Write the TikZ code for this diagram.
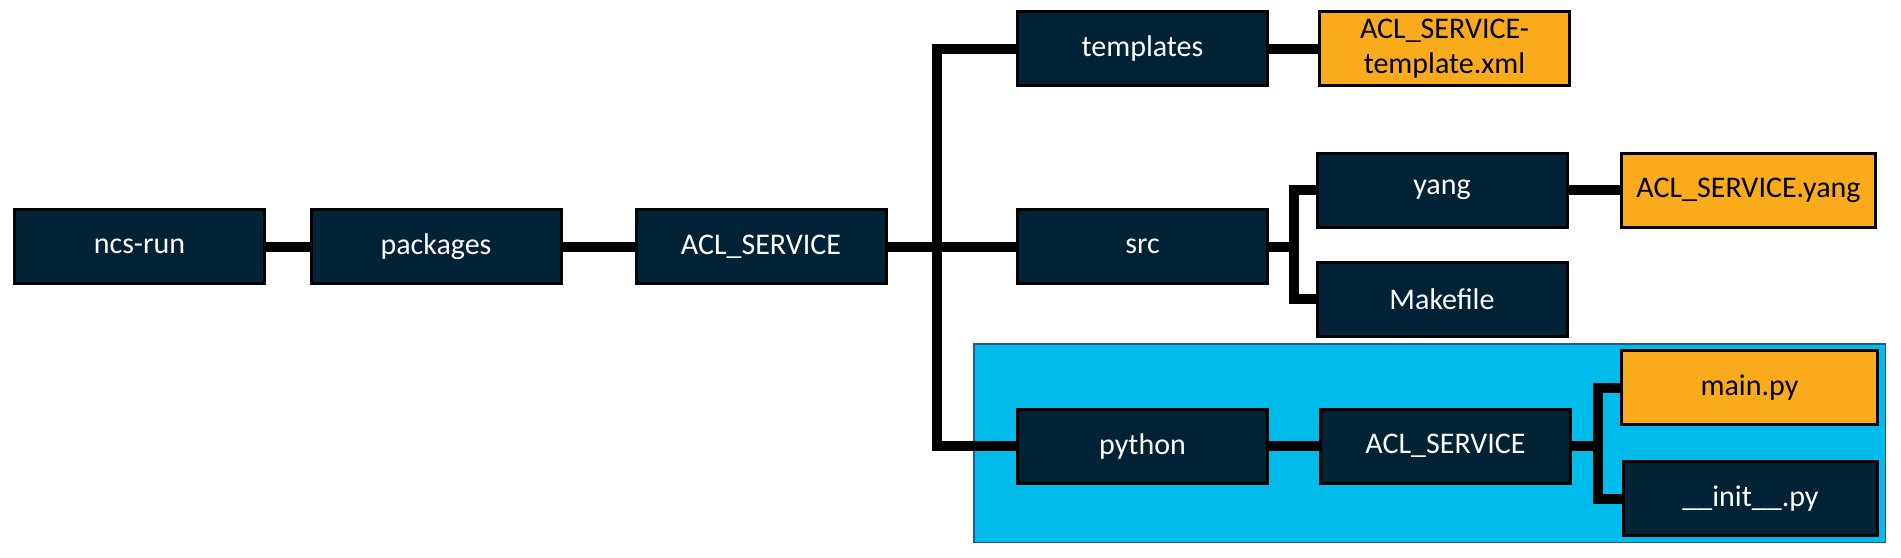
\documentclass[tikz,border=0pt]{standalone}
\usepackage{fontspec}
\setmainfont{Carlito}
\definecolor{navy}{RGB}{2,34,54}
\definecolor{gold}{RGB}{249,171,27}
\definecolor{cblue}{RGB}{0,188,235}
\definecolor{bluebd}{RGB}{47,85,151}
\begin{document}
\begin{tikzpicture}[x=1pt,y=-1pt,
  box/.style={draw=black, line width=3pt, minimum width=250pt, minimum height=74pt,
    inner sep=0pt, font=\fontsize{30}{35}\selectfont, align=center},
  dark/.style={box, fill=navy, text=white},
  file/.style={box, fill=gold, text=black},
  conn/.style={draw=black, line width=10pt, line join=miter},
  group/.style={draw=bluebd, fill=cblue, line width=1.5pt, inner sep=0pt}]
\useasboundingbox (0,0) rectangle (1901,557);
% python group background
\node[group, minimum width=911.5pt, minimum height=198.5pt] (pybox) at (1429.5,443) {};
% boxes
\node[dark] (ncs) at (139.5,246.5) {ncs-run};
\node[dark] (pkg) at (436,246.5) {packages};
\node[dark] (acl) at (761,246.5) {ACL\_SERVICE};
\node[dark] (tpl) at (1142.5,48.5) {templates};
\node[file] (xml) at (1444.5,48.5) {ACL\_SERVICE-\\template.xml};
\node[dark] (src) at (1142.5,246.5) {src};
\node[dark] (yang) at (1442,190) {yang};
\node[file, minimum width=254pt] (yfile) at (1748.5,190) {ACL\_SERVICE.yang};
\node[dark] (make) at (1442,299) {Makefile};
\node[dark] (py) at (1142.5,446) {python};
\node[dark] (acl2) at (1445.5,446) {ACL\_SERVICE};
\node[file, minimum width=256pt] (main) at (1749.5,387.5) {main.py};
\node[dark, minimum width=254pt] (init) at (1750.5,498.5) {\_\_init\_\_.py};
% branch columns
\coordinate (tx) at (937,0);
\coordinate (sx) at (1294,0);
\coordinate (px) at (1598,0);
% connectors
\draw[conn] (ncs.east) -- (pkg.west);
\draw[conn] (pkg.east) -- (acl.west);
\draw[conn] (acl.east) -- (src.west);
\draw[conn] (tpl.west) -- (tpl.west -| tx) -- (py.west -| tx) -- (py.west);
\draw[conn] (tpl.east) -- (xml.west);
\draw[conn] (src.east) -- (src.east -| sx);
\draw[conn] (yang.west) -- (yang.west -| sx) -- (make.west -| sx) -- (make.west);
\draw[conn] (yang.east) -- (yfile.west);
\draw[conn] (py.east) -- (acl2.west);
\draw[conn] (acl2.east) -- (acl2.east -| px);
\draw[conn] (main.west) -- (main.west -| px) -- (init.west -| px) -- (init.west);
\end{tikzpicture}
\end{document}
